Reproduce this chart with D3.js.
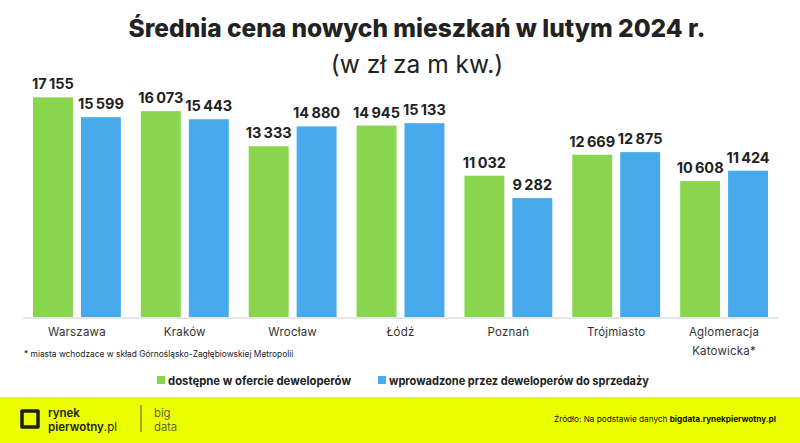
<!DOCTYPE html>
<html><head><meta charset="utf-8">
<script src="https://cdn.jsdelivr.net/npm/d3@7"></script>
<style>body{margin:0;background:#fff}svg{display:block}</style>
</head><body>
<svg id="c" width="800" height="443"></svg>
<script>
const categories = ["Warszawa","Kraków","Wrocław","Łódź","Poznań","Trójmiasto","Aglomeracja\nKatowicka*"];
const available = [17155,16073,13333,14945,11032,12669,10608];
const introduced = [15599,15443,14880,15133,9282,12875,11424];
const seriesNames = ["dostępne w ofercie deweloperów","wprowadzone przez deweloperów do sprzedaży"];
const colors = ["#89d64e","#46aaeb"];

const svg = d3.select("#c");
const F = "Inter, 'Open Sans', sans-serif";
const x0 = d3.scaleBand().domain(categories).range([23,778]).paddingInner(0).paddingOuter(0);
const x1 = d3.scaleBand().domain([0,1]).range([10, x0.bandwidth()-10]).paddingInner(0.167);
const y = d3.scaleLinear().domain([0,17155]).range([317,97.3]);

// title
svg.append("text").attr("x",417).attr("y",37).attr("text-anchor","middle")
  .attr("font-family",F).attr("font-weight",800).attr("font-size",24.5).attr("fill","#222")
  .text("Średnia cena nowych mieszkań w lutym 2024 r.");
svg.append("text").attr("x",417).attr("y",73).attr("text-anchor","middle")
  .attr("font-family",F).attr("font-weight",400).attr("font-size",24.5).attr("fill","#222")
  .text("(w zł za m kw.)");

const fmt = v => d3.format(",")(v).replace(/,/g,"\u2009");
const data = categories.map((c,i)=>({c, v:[available[i],introduced[i]]}));
const g = svg.append("g").selectAll("g").data(data).join("g")
  .attr("transform",d=>`translate(${x0(d.c)},0)`);
g.selectAll("rect").data(d=>d.v).join("rect")
  .attr("x",(d,i)=>x1(i)).attr("width",x1.bandwidth())
  .attr("y",d=>y(d)).attr("height",d=>y(0)-y(d)).attr("fill",(d,i)=>colors[i]);
g.selectAll("text.v").data(d=>d.v).join("text").attr("class","v")
  .attr("x",(d,i)=>x1(i)+x1.bandwidth()/2).attr("y",d=>y(d)-8)
  .attr("text-anchor","middle").attr("font-family",F).attr("font-weight",700)
  .attr("font-size",14.5).attr("fill","#222").text(d=>fmt(d));

// axis line
svg.append("line").attr("x1",23).attr("x2",778).attr("y1",318).attr("y2",318)
  .attr("stroke","#e6e6e6").attr("stroke-width",2);

// category labels
const cl = svg.append("g").selectAll("text").data(categories).join("text")
  .attr("x",d=>x0(d)+x0.bandwidth()/2).attr("y",336).attr("text-anchor","middle")
  .attr("font-family",F).attr("font-size",11.5).attr("letter-spacing",0.2).attr("fill","#333");
cl.each(function(d){
  const lines=d.split("\n");
  lines.forEach((l,i)=>d3.select(this).append("tspan").attr("x",x0(d)+x0.bandwidth()/2).attr("dy",i?19:0).text(l));
});

svg.append("text").attr("x",24).attr("y",357).attr("font-family",F).attr("font-size",8.4)
  .attr("fill","#222").text("* miasta wchodzace w skład Górnośląsko-Zagłębiowskiej Metropolii");

// legend
const lg = [{x:157,w:183,t:seriesNames[0]},{x:378,w:260,t:seriesNames[1]}];
lg.forEach((l,i)=>{
  svg.append("rect").attr("x",l.x).attr("y",376).attr("width",8).attr("height",8).attr("fill",colors[i]);
  svg.append("text").attr("x",l.x+11).attr("y",385).attr("font-family",F).attr("font-weight",700)
    .attr("font-size",12).attr("textLength",l.w).attr("lengthAdjust","spacingAndGlyphs")
    .attr("fill","#222").text(l.t);
});

// footer
svg.append("rect").attr("x",0).attr("y",397).attr("width",800).attr("height",46).attr("fill","#ebff00");
svg.append("path").attr("d","M22,411 h16 v16 h-16 z").attr("fill","none").attr("stroke","#1e1e1e").attr("stroke-width",3.5).attr("stroke-linejoin","round");
svg.append("text").attr("x",48).attr("y",417).attr("font-family",F).attr("font-weight",600).attr("font-size",11.5).attr("fill","#1e1e1e").text("rynek");
const pt = svg.append("text").attr("x",48).attr("y",431).attr("font-family",F).attr("font-weight",600).attr("font-size",11.5).attr("fill","#1e1e1e");
pt.append("tspan").text("pierwotny");
pt.append("tspan").attr("font-weight",400).text(".pl");
svg.append("line").attr("x1",141).attr("x2",141).attr("y1",405).attr("y2",432).attr("stroke","#555").attr("stroke-width",1);
svg.append("text").attr("x",154).attr("y",417).attr("font-family",F).attr("font-weight",300).attr("font-size",11.5).attr("fill","#444").text("big");
svg.append("text").attr("x",154).attr("y",431).attr("font-family",F).attr("font-weight",300).attr("font-size",11.5).attr("fill","#444").text("data");
const src = svg.append("text").attr("x",776).attr("y",422).attr("text-anchor","end").attr("font-family",F).attr("font-size",8.2).attr("fill","#111");
src.append("tspan").text("Źródło: Na podstawie danych ");
src.append("tspan").attr("font-weight",700).text("bigdata.rynekpierwotny.pl");
</script>
</body></html>
